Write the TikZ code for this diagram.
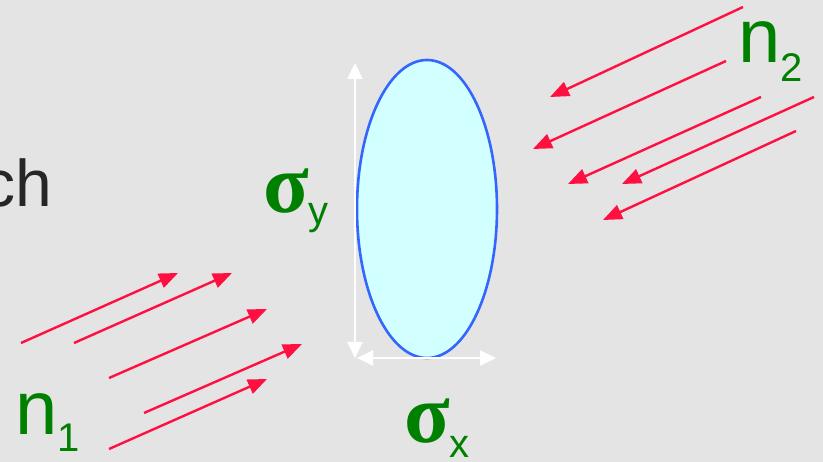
\documentclass[tikz,border=0pt]{standalone}
\usepackage{fontspec}
\setmainfont{Liberation Sans}
\newfontfamily\greekfont{Liberation Serif}
\usepackage{tikz}
\usetikzlibrary{positioning,arrows.meta,shapes.geometric}
\usepackage{xcolor}
\definecolor{PaperGray}{HTML}{E4E4E4}
\definecolor{BeamRed}{HTML}{FF1040}
\definecolor{LabelGreen}{HTML}{008000}
\definecolor{DiskBlue}{HTML}{3366FF}
\definecolor{DiskCyan}{HTML}{D2FFFF}
\newcommand{\bigfont}{\fontsize{76}{76}\selectfont}
\newcommand{\subfont}{\fontsize{40}{40}\selectfont}
\newcommand{\sigfont}{\greekfont\bfseries\fontsize{84}{84}\selectfont}

\begin{document}
\begin{tikzpicture}[x=1pt, y=-1pt,
        beam/.style={draw=BeamRed, line width=2.4pt,
                     -{Triangle[length=19pt, width=15pt]}},
        size/.style={draw=white, line width=2pt,
                     {Triangle[length=16pt, width=15pt]}-{Triangle[length=16pt, width=15pt]}},
        lbl/.style={text=LabelGreen, anchor=base west, inner sep=0pt},
      ]
      \clip (0,0) rectangle (823,462);
      \fill[PaperGray] (0,0) rectangle (823,462);

      % leftover text from the slide
      \node[anchor=base west, inner sep=0pt, text=black!85,
            font=\fontsize{66}{66}\selectfont] (cut) at (-18,207) {ch};

      % the beam cross section
      \node[ellipse, draw=DiskBlue, line width=2.6pt, fill=DiskCyan,
            minimum width=140pt, minimum height=298pt, inner sep=0pt]
            (disk) at (427,209) {};

      \coordinate (sy-top) at (355,63);
      \coordinate (sy-bot) at (355,358);
      \coordinate (sx-left) at (357,358);
      \coordinate (sx-right) at (496,358);
      \draw[size] (sy-top) -- (sy-bot);
      \draw[size] (sx-left) -- (sx-right);

      \node[lbl, font=\sigfont] (sigy) at (263,213)
            {σ\raisebox{-12pt}{\subfont\mdseries\rmfamily y}};
      \node[lbl, font=\sigfont] (sigx) at (404,443)
            {σ\raisebox{-15pt}{\subfont\mdseries\rmfamily x}};

      % beam 1, going up to the right
      \foreach \sx/\sy/\ex/\ey [count=\i] in
          {21/343/178/273, 74/343/232/273, 109/378/267/309,
           144/413/302/344, 109/449/267/379}{
        \coordinate (one\i-s) at (\sx,\sy);
        \coordinate (one\i-e) at (\ex,\ey);
        \draw[beam] (one\i-s) -- (one\i-e);
      }
      \node[lbl, font=\bigfont] (n1) at (15,435)
            {n\raisebox{-17pt}{\subfont 1}};

      % beam 2, coming down to the left
      \foreach \sx/\sy/\ex/\ey [count=\i] in
          {743/7/550/97, 726/61/533/149, 761/97/568/184,
           814/97/622/184, 796/131/603/220}{
        \coordinate (two\i-s) at (\sx,\sy);
        \coordinate (two\i-e) at (\ex,\ey);
        \draw[beam] (two\i-s) -- (two\i-e);
      }
      \node[lbl, font=\bigfont] (n2) at (738,63)
            {n\raisebox{-19pt}{\subfont 2}};
    \end{tikzpicture}
\end{document}
